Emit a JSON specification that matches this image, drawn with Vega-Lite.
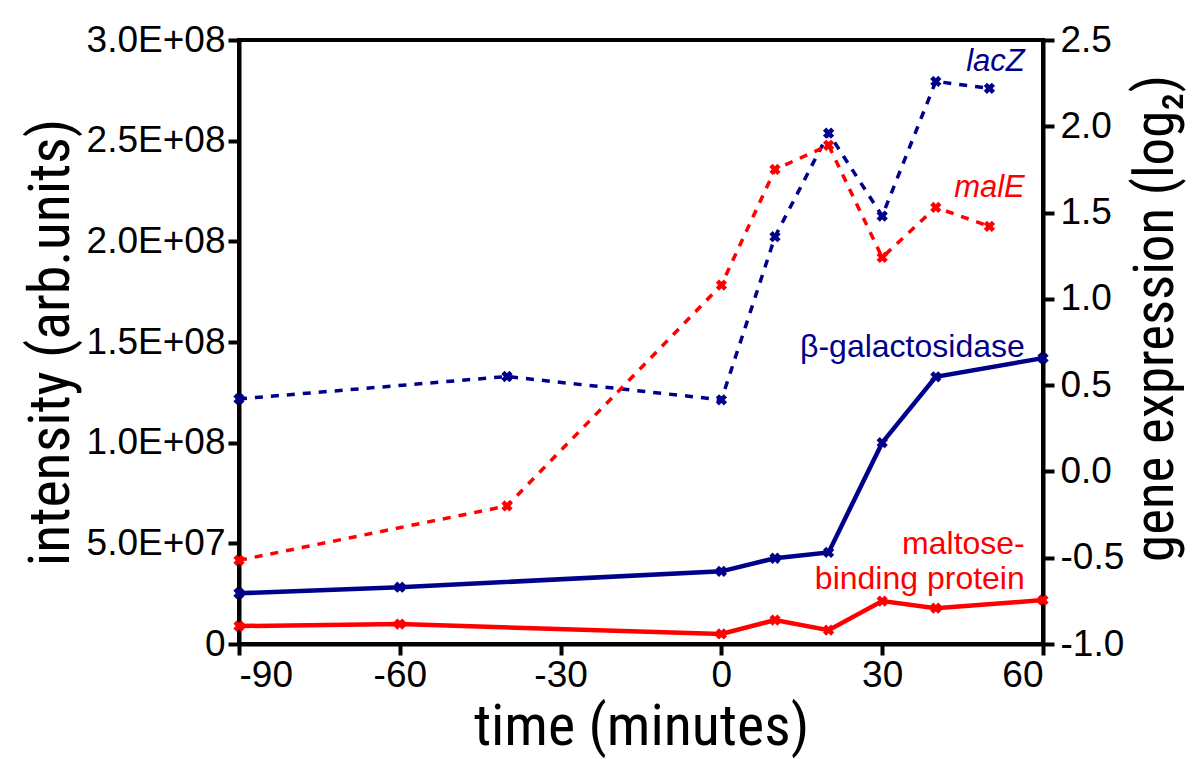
{
  "$schema": "https://vega.github.io/schema/vega-lite/v6.json",
  "width": 804,
  "height": 604,
  "autosize": {"type": "none"},
  "padding": {"left": 239, "top": 40, "right": 157, "bottom": 115},
  "background": "white",
  "config": {
    "view": {"stroke": "black", "strokeWidth": 4},
    "font": "Liberation Sans",
    "axis": {
      "labelFont": "Liberation Sans",
      "labelFontSize": 37,
      "labelColor": "black",
      "titleFont": "Liberation Sans Narrow, Roboto Condensed, Liberation Sans",
      "titleFontSize": 58,
      "titleFontWeight": "normal",
      "titleColor": "black",
      "domainColor": "black",
      "domainWidth": 4,
      "tickColor": "black",
      "tickWidth": 4,
      "tickSize": 11,
      "grid": false,
      "labelPadding": 3
    }
  },
  "datasets": {
    "protein": [
      {"time": -90, "series": "β-galactosidase", "value": 25200000},
      {"time": -60, "series": "β-galactosidase", "value": 28200000},
      {"time": 0, "series": "β-galactosidase", "value": 36100000},
      {"time": 10, "series": "β-galactosidase", "value": 42600000},
      {"time": 20, "series": "β-galactosidase", "value": 45500000},
      {"time": 30, "series": "β-galactosidase", "value": 100000000},
      {"time": 40, "series": "β-galactosidase", "value": 132700000},
      {"time": 60, "series": "β-galactosidase", "value": 142000000},
      {"time": -90, "series": "maltose-binding protein", "value": 8900000},
      {"time": -60, "series": "maltose-binding protein", "value": 9900000},
      {"time": 0, "series": "maltose-binding protein", "value": 5000000},
      {"time": 10, "series": "maltose-binding protein", "value": 11900000},
      {"time": 20, "series": "maltose-binding protein", "value": 6900000},
      {"time": 30, "series": "maltose-binding protein", "value": 21300000},
      {"time": 40, "series": "maltose-binding protein", "value": 17800000},
      {"time": 60, "series": "maltose-binding protein", "value": 21800000}
    ],
    "gene": [
      {"time": -90, "series": "lacZ", "value": 0.42},
      {"time": -40, "series": "lacZ", "value": 0.55},
      {"time": 0, "series": "lacZ", "value": 0.415},
      {"time": 10, "series": "lacZ", "value": 1.36},
      {"time": 20, "series": "lacZ", "value": 1.96},
      {"time": 30, "series": "lacZ", "value": 1.48},
      {"time": 40, "series": "lacZ", "value": 2.26},
      {"time": 50, "series": "lacZ", "value": 2.22},
      {"time": -90, "series": "malE", "value": -0.515},
      {"time": -40, "series": "malE", "value": -0.2},
      {"time": 0, "series": "malE", "value": 1.08},
      {"time": 10, "series": "malE", "value": 1.75},
      {"time": 20, "series": "malE", "value": 1.89},
      {"time": 30, "series": "malE", "value": 1.24},
      {"time": 40, "series": "malE", "value": 1.53},
      {"time": 50, "series": "malE", "value": 1.42}
    ],
    "labels": [
      {"time": 56.6, "value": 289000000, "label": "lacZ", "series": "lacZ", "italic": true},
      {"time": 56.6, "value": 226500000, "label": "malE", "series": "malE", "italic": true},
      {"time": 56.6, "value": 147500000, "label": "β-galactosidase", "series": "β-galactosidase", "italic": false},
      {"time": 56.6, "value": 49800000, "label": "maltose-", "series": "maltose-binding protein", "italic": false},
      {"time": 56.6, "value": 32500000, "label": "binding protein", "series": "maltose-binding protein", "italic": false}
    ]
  },
  "encoding": {
    "x": {
      "field": "time",
      "type": "quantitative",
      "scale": {"domain": [-90, 60], "nice": false, "zero": false},
      "axis": {
        "values": [-90, -60, -30, 0, 30, 60],
        "title": "time (minutes)",
        "labelExpr": "replace(format(datum.value, 'd'), '−', '-')",
        "labelPadding": 2,
        "titlePadding": 5
      }
    },
    "color": {
      "field": "series",
      "type": "nominal",
      "scale": {
        "domain": ["β-galactosidase", "maltose-binding protein", "lacZ", "malE"],
        "range": ["#00008B", "#FF0000", "#00008B", "#FF0000"]
      },
      "legend": null
    }
  },
  "layer": [
    {
      "encoding": {
        "y": {
          "field": "value",
          "type": "quantitative",
          "scale": {"domain": [0, 300000000], "nice": false},
          "axis": {
            "orient": "left",
            "values": [0, 50000000, 100000000, 150000000, 200000000, 250000000, 300000000],
            "labelExpr": "datum.value == 0 ? '0' : upper(replace(format(datum.value, '.1e'), '+', '+0'))",
            "title": "intensity (arb.units)",
            "titlePadding": 6
          }
        }
      },
      "layer": [
        {
          "data": {"name": "protein"},
          "mark": {"type": "line", "strokeWidth": 4.5}
        },
        {
          "data": {"name": "protein"},
          "mark": {"type": "point", "shape": "cross", "angle": 45, "filled": true, "opacity": 1, "size": 130}
        },
        {
          "data": {"name": "labels"},
          "transform": [{"filter": "datum.italic"}],
          "mark": {"type": "text", "align": "right", "baseline": "middle", "fontSize": 31, "fontStyle": "italic", "font": "Liberation Sans"},
          "encoding": {"text": {"field": "label"}}
        },
        {
          "data": {"name": "labels"},
          "transform": [{"filter": "!datum.italic"}],
          "mark": {"type": "text", "align": "right", "baseline": "middle", "fontSize": 32, "font": "Liberation Sans"},
          "encoding": {"text": {"field": "label"}}
        }
      ]
    },
    {
      "data": {"name": "gene"},
      "encoding": {
        "y": {
          "field": "value",
          "type": "quantitative",
          "scale": {"domain": [-1, 2.5], "nice": false, "zero": false},
          "axis": {
            "orient": "right",
            "values": [-1, -0.5, 0, 0.5, 1, 1.5, 2, 2.5],
            "labelExpr": "replace(format(datum.value, '.1f'), '−', '-')",
            "labelPadding": 6,
            "title": "gene expression (log₂)",
            "titleAngle": -90,
            "titleBaseline": "top",
            "titleFontSize": 55,
            "titlePadding": 6,
            "titleY": 278
          }
        }
      },
      "layer": [
        {
          "mark": {"type": "line", "strokeWidth": 3.5, "strokeDash": [8, 8]}
        },
        {
          "mark": {"type": "point", "shape": "cross", "angle": 45, "filled": true, "opacity": 1, "size": 130}
        }
      ]
    }
  ],
  "resolve": {"scale": {"y": "independent"}}
}
